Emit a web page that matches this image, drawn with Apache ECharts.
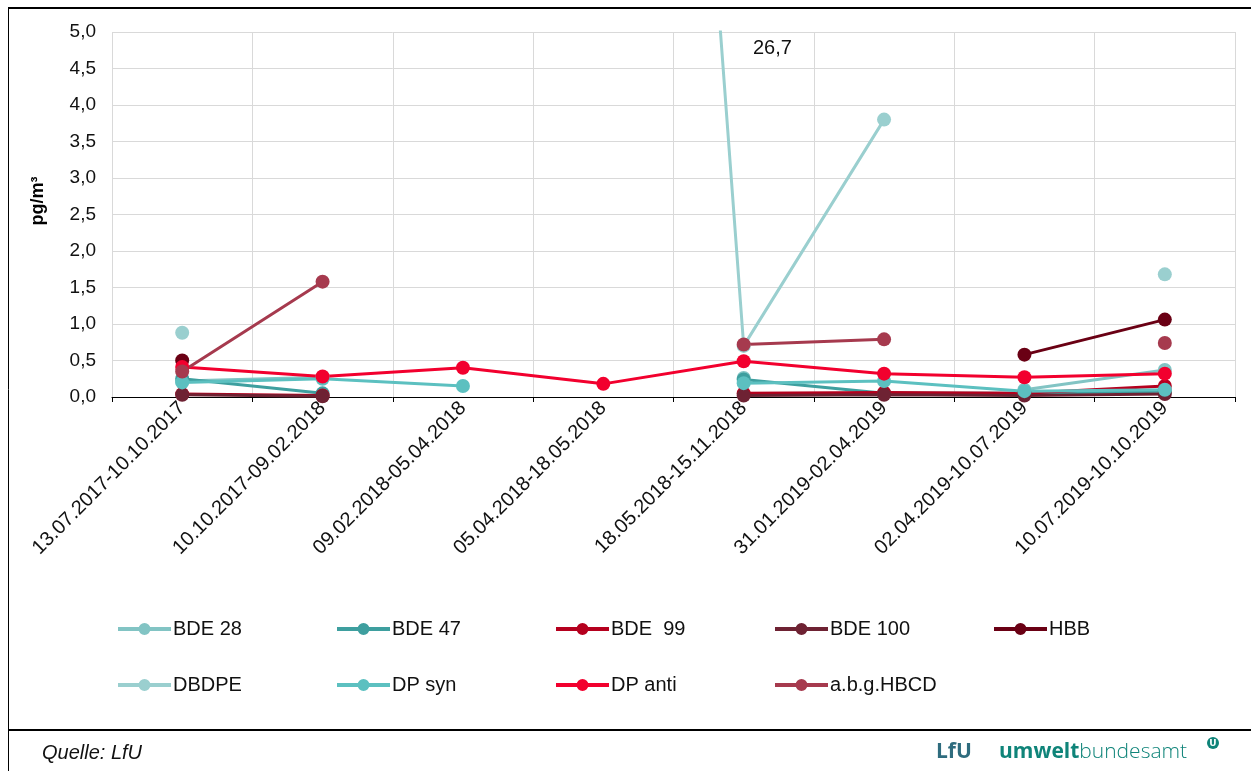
<!DOCTYPE html>
<html><head><meta charset="utf-8">
<script src="https://cdn.jsdelivr.net/npm/echarts@6/dist/echarts.min.js"></script>
<style>html,body{margin:0;padding:0;background:#fff}#c{width:1251px;height:771px}</style>
</head><body><div id="c"></div>
<script>
const categories = ['13.07.2017-10.10.2017','10.10.2017-09.02.2018','09.02.2018-05.04.2018','05.04.2018-18.05.2018','18.05.2018-15.11.2018','31.01.2019-02.04.2019','02.04.2019-10.07.2019','10.07.2019-10.10.2019'];
const seriesNames = ['BDE 28','BDE 47','BDE  99','BDE 100','HBB','DBDPE','DP syn','DP anti','a.b.g.HBCD'];
const bde28  = [0.22, 0.27, null, null, 0.26, null, 0.1, 0.37];
const bde47  = [0.25, 0.05, null, null, 0.24, 0.05, 0.05, 0.08];
const bde99  = [0.04, 0.02, null, null, 0.05, 0.06, 0.05, 0.15];
const bde100 = [0.03, 0.01, null, null, 0.02, 0.03, 0.02, 0.04];
const hbb    = [0.5, null, null, null, null, null, 0.58, 1.06];
const dbdpe  = [0.88, null, null, 26.7, 0.7, 3.8, null, 1.68];
const dpsyn  = [0.2, 0.25, 0.15, null, 0.19, 0.22, 0.08, 0.1];
const dpanti = [0.41, 0.28, 0.4, 0.18, 0.49, 0.32, 0.27, 0.32];
const hbcd   = [0.35, 1.58, null, null, 0.72, 0.79, null, 0.74];
const yTicks = [0, 0.5, 1, 1.5, 2, 2.5, 3, 3.5, 4, 4.5, 5];
const outlierLabel = '26,7';

const allData = [bde28, bde47, bde99, bde100, hbb, dbdpe, dpsyn, dpanti, hbcd];
const colors = ['#82C4C4','#3E9F9F','#B5001E','#6E2233','#6A0014','#9ACFCF','#5CC0C0','#F2002E','#A63A4E'];
const FONT = '"Liberation Sans", Arial';

const chart = echarts.init(document.getElementById('c'));
const series = seriesNames.map((n, i) => ({
  name: n, type: 'line', data: allData[i], clip: true,
  symbol: 'circle', symbolSize: 14, connectNulls: false,
  lineStyle: { width: 3, color: colors[i] },
  itemStyle: { color: colors[i] },
  emphasis: { disabled: true }, animation: false
}));
const icon = 'path://M0,5 L53,5 L53,9 L0,9 Z M20.5,7 A6,6 0 1,1 32.5,7 A6,6 0 1,1 20.5,7 Z';
const legends = seriesNames.map((n, i) => ({
  data: [n], icon: icon, itemWidth: 53, itemHeight: 12, itemGap: 4,
  left: 113 + (i % 5) * 219, top: i < 5 ? 614 : 670,
  textStyle: { fontFamily: FONT, fontSize: 20, color: '#111', padding: [0, 0, 0, -3] }
}));
chart.setOption({
  animation: false,
  grid: { left: 112, right: 16, top: 32, bottom: 374 },
  legend: legends,
  xAxis: {
    type: 'category', data: categories, boundaryGap: true,
    axisLine: { lineStyle: { color: '#000', width: 1 } },
    axisTick: { show: true, length: 5, lineStyle: { color: '#000' } },
    splitLine: { show: true, lineStyle: { color: '#d9d9d9', width: 1 } },
    axisLabel: { rotate: 45, fontFamily: FONT, fontSize: 20, color: '#111', margin: 8, interval: 0 }
  },
  yAxis: {
    type: 'value', min: 0, max: 5, interval: 0.5,
    axisLine: { show: false }, axisTick: { show: false },
    splitLine: { lineStyle: { color: '#d9d9d9', width: 1 } },
    axisLabel: { fontFamily: FONT, fontSize: 19, color: '#111', margin: 16,
      formatter: v => v.toFixed(1).replace('.', ',') }
  },
  series: series,
  graphic: [
    { type: 'line', shape: { x1: 8, y1: 8, x2: 1251, y2: 8 }, style: { stroke: '#000', lineWidth: 2 } },
    { type: 'line', shape: { x1: 8.5, y1: 8, x2: 8.5, y2: 771 }, style: { stroke: '#000', lineWidth: 1 } },
    { type: 'line', shape: { x1: 8, y1: 730, x2: 1251, y2: 730 }, style: { stroke: '#000', lineWidth: 2 } },
    { type: 'text', x: 38, y: 201, rotation: Math.PI / 2, style: { text: 'pg/m³', font: 'bold 18px "Liberation Sans", Arial', fill: '#000', textAlign: 'center', textVerticalAlign: 'middle' } },
    { type: 'text', left: 753, top: 38, style: { text: outlierLabel, font: '20px "Liberation Sans", Arial', fill: '#111' } },
    { type: 'text', left: 42, top: 743, style: { text: 'Quelle: LfU', font: 'italic 20px "Liberation Sans", Arial', fill: '#111' } },
    { type: 'text', left: 936, top: 742, style: { text: 'LfU', font: 'bold 21px "Open Sans", "DejaVu Sans"', fill: '#2F6C7E' } },
    { type: 'text', left: 999, top: 742, style: {
        text: '{a|umwelt}{b|bundesamt}', fill: '#0F8479',
        rich: { a: { font: 'bold 21px "Open Sans", "DejaVu Sans"', fill: '#0F8479' },
                b: { font: '300 21px "Open Sans", "DejaVu Sans"', fill: '#0F8479' } } } },
    { type: 'circle', shape: { cx: 1213, cy: 743, r: 6 }, style: { fill: '#0F8479' } },
    { type: 'text', x: 1213, y: 743.5, style: { text: 'U', font: 'bold 9px "DejaVu Sans"', fill: '#fff', textAlign: 'center', textVerticalAlign: 'middle' } }
  ]
});
</script></body></html>
